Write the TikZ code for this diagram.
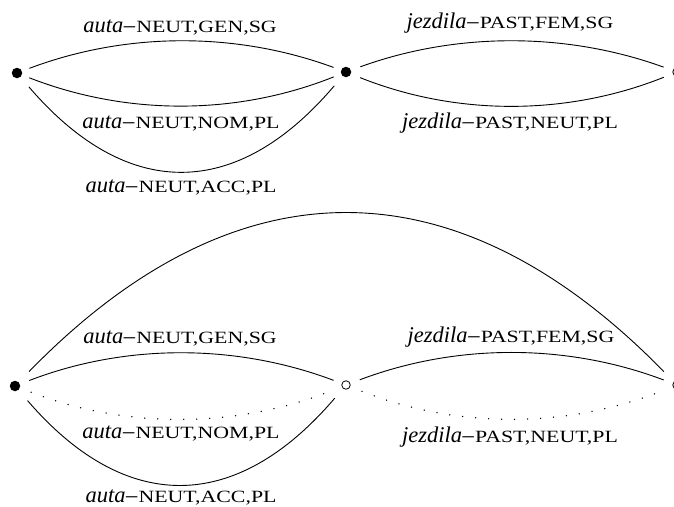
\documentclass[tikz,border=0pt]{standalone}
\usepackage{graphicx}
\usepackage{fontspec}
\setmainfont{Liberation Serif}
\newfontfamily\capsfont{Liberation Serif}
\newcommand\mysc[1]{{\fontsize{17.2}{18}\capsfont\scalebox{1.27}[1]{#1}}}
\newcommand\dsh{\kern0.6pt\textendash\kern1.2pt}
\begin{document}
\begin{tikzpicture}[x=1pt,y=-1pt,
  full/.style={circle,fill,inner sep=0pt,outer sep=0pt,minimum size=10.5pt},
  hollow/.style={circle,draw,line width=0.8pt,inner sep=0pt,outer sep=0pt,minimum size=8.5pt},
  arcline/.style={line width=0.9pt},
  dotline/.style={line width=1.5pt,line cap=round,dash pattern=on 0pt off 13pt},
  lab/.style={anchor=base,inner sep=0pt,font=\fontsize{22.5}{26}\selectfont}]
\useasboundingbox (0,0) rectangle (674,506);
% states
\node[full] (A) at (17,73) {};
\node[full] (B) at (346,72) {};
\node[hollow] (C) at (677,72) {};
\node[full] (E) at (15,386) {};
\node[hollow] (F) at (346,385) {};
\node[hollow] (G) at (677,385) {};
% top left
\draw[arcline,shorten <=8pt,shorten >=8pt] (A) .. controls (126.7,31.7) and (236.3,31.7) .. (B);
\draw[arcline,shorten <=8pt,shorten >=8pt] (A) .. controls (126.7,115.7) and (236.3,115.7) .. (B);
\draw[arcline,shorten <=13pt,shorten >=13pt] (A) .. controls (126.7,201) and (236.3,201) .. (B);
% top right
\draw[arcline,shorten <=10pt,shorten >=10pt] (B) .. controls (456.3,32) and (566.7,32) .. (C);
\draw[arcline,shorten <=10pt,shorten >=10pt] (B) .. controls (456.3,116) and (566.7,116) .. (C);
% bottom left
\draw[arcline,shorten <=10pt,shorten >=9pt] (E) .. controls (125.3,343.5) and (235.7,343.5) .. (F);
\draw[dotline,shorten <=12pt,shorten >=11pt] (E) .. controls (125.3,428.8) and (235.7,428.8) .. (F);
\draw[arcline,shorten <=14pt,shorten >=13pt] (E) .. controls (125.3,514.2) and (235.7,514.2) .. (F);
% big arc
\draw[arcline,shorten <=15pt,shorten >=14.5pt] (E) .. controls (235.7,159.5) and (456.3,159.5) .. (G);
% bottom right
\draw[arcline,shorten <=10.5pt,shorten >=10pt] (F) .. controls (456.3,343.3) and (566.7,343.3) .. (G);
\draw[dotline,shorten <=13pt,shorten >=12pt] (F) .. controls (456.3,428.7) and (566.7,428.7) .. (G);
% labels
\node[lab] (l1) at (180,32) {\textit{auta}\dsh\mysc{NEUT,GEN,SG}};
\node[lab] (l2) at (181,128) {\textit{auta}\dsh\mysc{NEUT,NOM,PL}};
\node[lab] (l3) at (181,192) {\textit{auta}\dsh\mysc{NEUT,ACC,PL}};
\node[lab] (l4) at (510,28) {\textit{jezdila}\dsh\mysc{PAST,FEM,SG}};
\node[lab] (l5) at (510,128) {\textit{jezdila}\dsh\mysc{PAST,NEUT,PL}};
\node[lab] (l6) at (180,343) {\textit{auta}\dsh\mysc{NEUT,GEN,SG}};
\node[lab] (l7) at (181,438) {\textit{auta}\dsh\mysc{NEUT,NOM,PL}};
\node[lab] (l8) at (181,502) {\textit{auta}\dsh\mysc{NEUT,ACC,PL}};
\node[lab] (l9) at (511,342) {\textit{jezdila}\dsh\mysc{PAST,FEM,SG}};
\node[lab] (l10) at (510,442) {\textit{jezdila}\dsh\mysc{PAST,NEUT,PL}};
\end{tikzpicture}
\end{document}
